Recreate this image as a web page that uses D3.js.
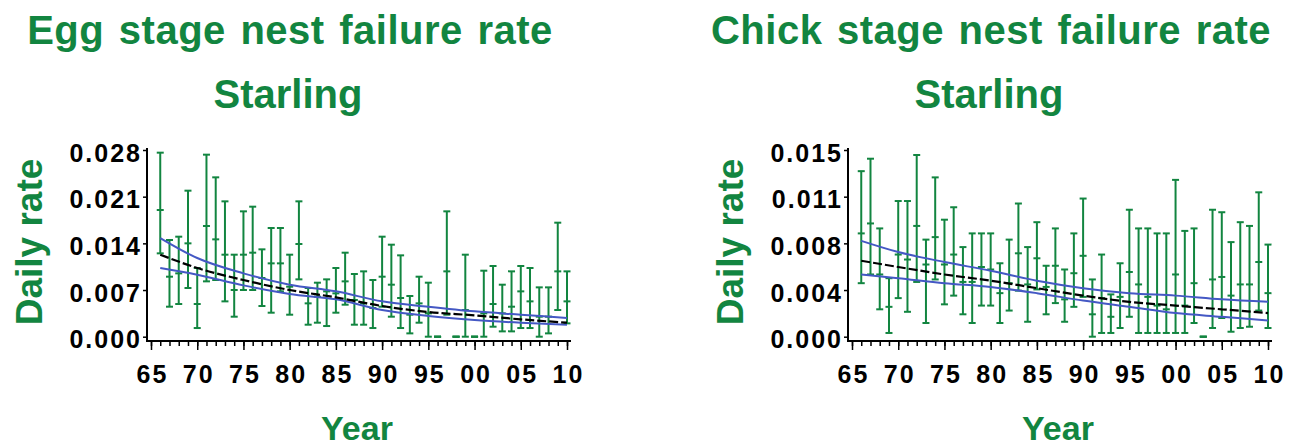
<!DOCTYPE html>
<html>
<head>
<meta charset="utf-8">
<script src="https://cdn.jsdelivr.net/npm/d3@7"></script>
<style>
  body { margin: 0; background: #fff; }
  svg { display: block; }
  text { font-family: "Liberation Sans", Arial, sans-serif; font-weight: bold; }
</style>
</head>
<body>
<script>
// years shown on both panels
const years = [1966,1967,1968,1969,1970,1971,1972,1973,1974,1975,1976,1977,1978,1979,1980,
  1981,1982,1983,1984,1985,1986,1987,1988,1989,1990,1991,1992,1993,1994,1995,
  1996,1997,1998,1999,2000,2001,2002,2003,2004,2005,2006,2007,2008,2009,2010];

// egg stage: annual estimate and confidence limits
const eggMean = [0.0190,0.0090,0.0095,0.0140,0.0049,0.0166,0.0146,0.0123,0.0070,0.0123,0.0126,0.0088,0.0110,0.0110,0.0075,
  0.0139,0.0050,0.0060,0.0068,0.0065,0.0083,0.0055,0.0050,0.0043,0.0090,0.0078,0.0058,0.0033,0.0050,0.0035,
  0.0000,0.0098,0.0000,0.0040,0.0000,0.0035,0.0049,0.0035,0.0045,0.0068,0.0053,0.0030,0.0030,0.0098,0.0053];
const eggLow = [0.0125,0.0045,0.0049,0.0073,0.0013,0.0083,0.0085,0.0053,0.0030,0.0070,0.0070,0.0046,0.0036,0.0068,0.0033,
  0.0086,0.0018,0.0021,0.0016,0.0036,0.0048,0.0018,0.0018,0.0013,0.0045,0.0030,0.0013,0.0005,0.0021,0.0000,
  0.0000,0.0033,0.0000,0.0000,0.0000,0.0000,0.0015,0.0008,0.0008,0.0013,0.0013,0.0000,0.0005,0.0040,0.0020];
const eggHigh = [0.0276,0.0145,0.0150,0.0219,0.0103,0.0273,0.0239,0.0203,0.0123,0.0188,0.0195,0.0131,0.0163,0.0163,0.0123,
  0.0203,0.0073,0.0081,0.0086,0.0103,0.0126,0.0094,0.0098,0.0085,0.0150,0.0138,0.0122,0.0061,0.0090,0.0081,
  0.0000,0.0188,0.0000,0.0123,0.0000,0.0099,0.0106,0.0078,0.0098,0.0106,0.0103,0.0074,0.0074,0.0171,0.0098];

// chick stage
const chickMean = [0.0083,0.0091,0.0050,0.0024,0.0066,0.0062,0.0089,0.0058,0.0080,0.0058,0.0066,0.0044,0.0044,0.0056,0.0054,
  0.0035,0.0043,0.0067,0.0042,0.0063,0.0040,0.0057,0.0030,0.0051,0.0065,0.0018,0.0031,0.0016,0.0032,0.0052,
  0.0042,0.0032,0.0025,0.0022,0.0050,0.0025,0.0043,0.0000,0.0046,0.0048,0.0033,0.0042,0.0042,0.0060,0.0035];
const chickLow = [0.0043,0.0050,0.0022,0.0003,0.0031,0.0020,0.0044,0.0011,0.0046,0.0026,0.0033,0.0018,0.0011,0.0025,0.0025,
  0.0011,0.0021,0.0037,0.0012,0.0038,0.0018,0.0027,0.0012,0.0024,0.0032,0.0000,0.0003,0.0003,0.0007,0.0016,
  0.0003,0.0003,0.0003,0.0003,0.0003,0.0003,0.0011,0.0000,0.0007,0.0015,0.0004,0.0007,0.0008,0.0021,0.0007];
const chickHigh = [0.0133,0.0143,0.0087,0.0047,0.0109,0.0109,0.0146,0.0078,0.0128,0.0094,0.0104,0.0072,0.0083,0.0083,0.0083,
  0.0059,0.0078,0.0107,0.0072,0.0092,0.0057,0.0087,0.0054,0.0083,0.0111,0.0046,0.0066,0.0034,0.0059,0.0102,
  0.0087,0.0087,0.0083,0.0083,0.0126,0.0085,0.0087,0.0000,0.0102,0.0100,0.0076,0.0092,0.0089,0.0116,0.0074];

// fitted trend and its limits
const fitYears = [1966,1970,1975,1980,1985,1990,1995,2000,2005,2010];
const eggFit = [0.0123,0.0103,0.0085,0.0070,0.0059,0.0046,0.0037,0.0032,0.0026,0.0021];
const eggFitHigh = [0.0148,0.0118,0.0095,0.0078,0.0068,0.0053,0.0045,0.0038,0.0033,0.0028];
const eggFitLow = [0.0103,0.0093,0.0077,0.0064,0.0056,0.0040,0.0031,0.0025,0.0021,0.0018];
const chickFit = [0.0061,0.0056,0.0050,0.0045,0.0039,0.0033,0.0028,0.0025,0.0022,0.0019];
const chickFitHigh = [0.0077,0.0068,0.0060,0.0053,0.0045,0.0039,0.0035,0.0033,0.0030,0.0028];
const chickFitLow = [0.0050,0.0047,0.0043,0.0040,0.0035,0.0029,0.0024,0.0019,0.0016,0.0013];

// axis ticks
const xTickYears = [1965,1970,1975,1980,1985,1990,1995,2000,2005,2010];
const xTickLabels = ["65","70","75","80","85","90","95","00","05","10"];
const eggYTicks = [0, 0.007, 0.014, 0.021, 0.028];
const eggYLabels = ["0.000","0.007","0.014","0.021","0.028"];
const chickYTicks = [0, 0.00375, 0.0075, 0.01125, 0.015];
const chickYLabels = ["0.000","0.004","0.008","0.011","0.015"];

const green = "#128540", blue = "#4458c4";

const svg = d3.select("body").append("svg")
  .attr("width", 1290)
  .attr("height", 446);

function drawPanel(offset, title, mean, low, high, fit, fitLow, fitHigh, yTicks, yLabels) {
  const g = svg.append("g").attr("transform", `translate(${offset},0)`);

  const x = d3.scaleLinear().domain([1965, 2010]).range([151, 567]);
  const y = d3.scaleLinear().domain([0, yTicks[yTicks.length - 1]]).range([336.7, 150]);

  // titles
  g.append("text").attr("x", 290).attr("y", 44).attr("text-anchor", "middle")
    .attr("font-size", 40).attr("letter-spacing", 0.5).attr("word-spacing", 3)
    .attr("fill", green).text(title);
  g.append("text").attr("x", 288).attr("y", 108).attr("text-anchor", "middle")
    .attr("font-size", 40).attr("fill", green).text("Starling");

  // axis titles
  g.append("text").attr("transform", "translate(42,242) rotate(-90)").attr("text-anchor", "middle")
    .attr("font-size", 37).attr("fill", green).text("Daily rate");
  g.append("text").attr("x", 357).attr("y", 440).attr("text-anchor", "middle")
    .attr("font-size", 34).attr("fill", green).text("Year");

  // axis lines
  g.append("line").attr("x1", 147).attr("x2", 147).attr("y1", 148).attr("y2", 341)
    .attr("stroke", "#000").attr("stroke-width", 2);
  g.append("line").attr("x1", 146).attr("x2", 571).attr("y1", 341).attr("y2", 341)
    .attr("stroke", "#000").attr("stroke-width", 2);

  const yAxis = g.append("g").attr("transform", "translate(147,0)")
    .call(d3.axisLeft(y).tickValues(yTicks).tickFormat((d, i) => yLabels[i]).tickSize(4).tickPadding(1));
  const xMinor = g.append("g").attr("transform", "translate(0,341)")
    .call(d3.axisBottom(x).tickValues(d3.range(1965, 2011)).tickSize(5).tickFormat(""));
  const xMajor = g.append("g").attr("transform", "translate(0,341)")
    .call(d3.axisBottom(x).tickValues(xTickYears).tickFormat((d, i) => xTickLabels[i]).tickSize(9).tickPadding(15));

  [yAxis, xMinor, xMajor].forEach(a => {
    a.select(".domain").remove();
    a.selectAll(".tick line").attr("stroke", "#000").attr("stroke-width", 1.5);
    a.selectAll("text").attr("font-size", 25).attr("fill", "#000").attr("letter-spacing", 2)
      .attr("font-family", "'Liberation Sans', Arial, sans-serif").attr("font-weight", "bold");
  });
  yAxis.selectAll("text").attr("dy", "0.45em");
  xMajor.selectAll("text").attr("dx", 1);

  // error bars
  const bars = g.append("g").attr("stroke", green).attr("stroke-width", 2).attr("fill", "none");
  years.forEach((yr, i) => {
    const cx = x(yr);
    bars.append("line").attr("x1", cx).attr("x2", cx).attr("y1", y(low[i])).attr("y2", y(high[i]));
    [low[i], mean[i], high[i]].forEach(v => {
      bars.append("line").attr("x1", cx - 3.5).attr("x2", cx + 3.5).attr("y1", y(v)).attr("y2", y(v));
    });
  });

  // fitted lines
  const line = vals => d3.line().x((d, i) => x(fitYears[i])).y(d => y(d)).curve(d3.curveMonotoneX)(vals);
  [fitLow, fitHigh].forEach(vals => {
    g.append("path").attr("d", line(vals)).attr("fill", "none")
      .attr("stroke", blue).attr("stroke-width", 2);
  });
  g.append("path").attr("d", line(fit)).attr("fill", "none")
    .attr("stroke", "#000").attr("stroke-width", 2.2).attr("stroke-dasharray", "9,3");
}

drawPanel(0, "Egg stage nest failure rate", eggMean, eggLow, eggHigh,
  eggFit, eggFitLow, eggFitHigh, eggYTicks, eggYLabels);
drawPanel(701, "Chick stage nest failure rate", chickMean, chickLow, chickHigh,
  chickFit, chickFitLow, chickFitHigh, chickYTicks, chickYLabels);
</script>
</body>
</html>
